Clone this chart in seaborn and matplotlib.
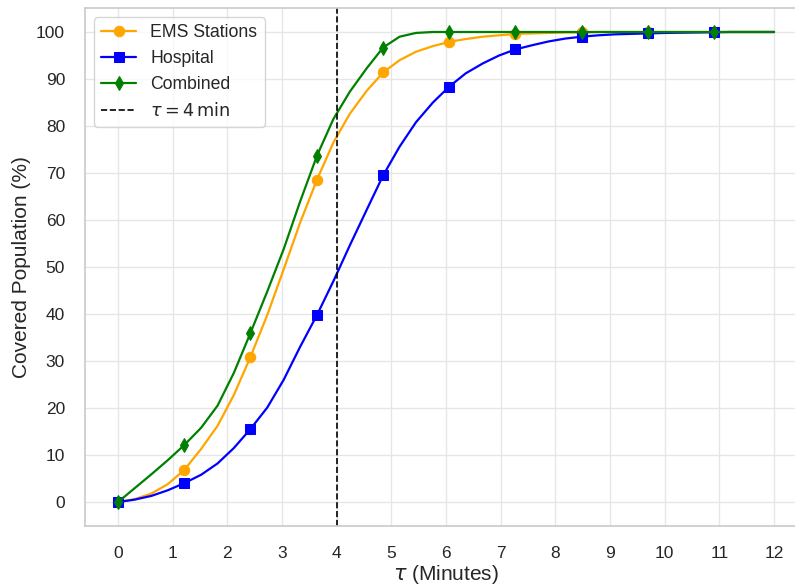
import numpy as np
import pandas as pd
import seaborn as sns
import matplotlib
matplotlib.use("Agg")
import matplotlib.pyplot as plt


# response time threshold tau (minutes)
tau = [0.00, 0.30, 0.61, 0.91, 1.21, 1.52, 1.82, 2.12, 2.42, 2.73,
       3.03, 3.33, 3.64, 3.94, 4.24, 4.55, 4.85, 5.15, 5.45, 5.76,
       6.06, 6.36, 6.67, 6.97, 7.27, 7.58, 7.88, 8.18, 8.48, 8.79,
       9.09, 9.39, 9.70, 10.00, 10.30, 10.61, 10.91, 11.21, 11.52, 11.82,
       12.00]

# covered population (%)
ems = [0.0, 0.6, 1.8, 3.8, 6.8, 11.3, 16.2, 22.8, 30.8, 39.8,
       49.5, 59.4, 68.6, 76.5, 82.6, 87.5, 91.4, 94.0, 95.8, 97.0,
       97.9, 98.5, 99.0, 99.3, 99.6, 99.7, 99.8, 99.9, 99.9, 100.0,
       100.0, 100.0, 100.0, 100.0, 100.0, 100.0, 100.0, 100.0, 100.0, 100.0,
       100.0]

hospital = [0.0, 0.5, 1.3, 2.5, 4.0, 5.8, 8.2, 11.5, 15.5, 20.1,
            26.0, 33.0, 39.8, 47.0, 54.6, 62.2, 69.5, 75.6, 80.8, 85.0,
            88.4, 91.2, 93.3, 95.0, 96.3, 97.2, 98.0, 98.6, 99.0, 99.3,
            99.5, 99.6, 99.7, 99.8, 99.85, 99.9, 99.95, 100.0, 100.0, 100.0,
            100.0]

combined = [0.0, 2.9, 5.9, 8.9, 12.1, 15.8, 20.5, 27.5, 35.9, 44.8,
            53.8, 63.9, 73.7, 81.5, 87.3, 92.3, 96.7, 99.0, 99.8, 100.0,
            100.0, 100.0, 100.0, 100.0, 100.0, 100.0, 100.0, 100.0, 100.0, 100.0,
            100.0, 100.0, 100.0, 100.0, 100.0, 100.0, 100.0, 100.0, 100.0, 100.0,
            100.0]

series = [
    ("EMS Stations", "orange", "o"),
    ("Hospital", "blue", "s"),
    ("Combined", "green", "d"),
]

sns.set_theme(style="whitegrid", font_scale=1.1)
plt.rcParams["font.family"] = ["Liberation Sans", "DejaVu Sans"]

fig = plt.figure(figsize=(7.95, 5.86), dpi=100)
ax = fig.add_axes([0.1072, 0.1032, 0.9077, 0.8823])

df = pd.DataFrame({"tau": tau, "EMS Stations": ems,
                   "Hospital": hospital, "Combined": combined})

for name, col, mk in series:
    sns.lineplot(data=df, x="tau", y=name, color=col, marker=mk,
                 markersize=7.5, markevery=slice(0, -1, 4),
                 markeredgecolor=col, markeredgewidth=0.75,
                 linewidth=1.6, label=name, ax=ax)

ax.axvline(4, color="black", linestyle="--", linewidth=1.2,
           label=r"$\tau = 4\,\mathrm{min}$")

ax.set_xticks(range(0, 13))
ax.set_yticks(range(0, 101, 10))
ax.tick_params(labelsize=12.5, pad=8.5)
ax.grid(True, color="#e6e6e6")
for sp in ax.spines.values():
    sp.set_edgecolor("#cccccc")

ax.set_xlabel(r"$\tau$ (Minutes)", fontsize=15, labelpad=2)
ax.set_ylabel("Covered Population (%)", fontsize=15, labelpad=4)
ax.legend(loc="upper left", fontsize=12.7)

fig.savefig("out.png", dpi=100)
